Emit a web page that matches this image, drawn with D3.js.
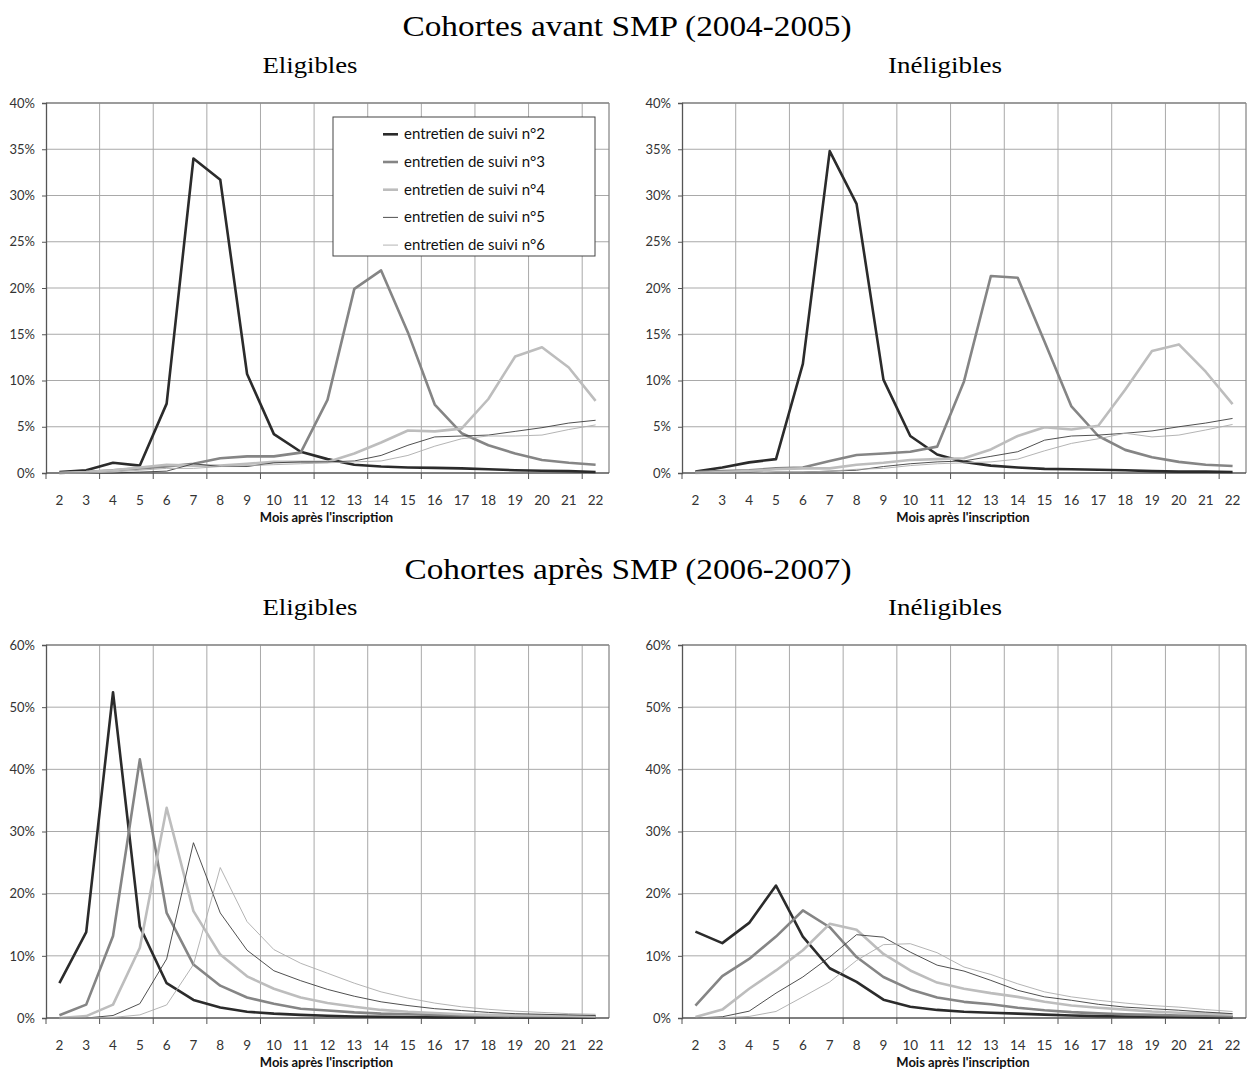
<!DOCTYPE html>
<html><head><meta charset="utf-8">
<script src="https://cdn.jsdelivr.net/npm/d3@7"></script>
<style>
body{margin:0;background:#fff;}
svg{display:block;}
.tick text{font-family:Lato,"Open Sans",sans-serif;}
</style>
</head><body>
<svg id="chart" width="1249" height="1072"></svg>
<script>
const months = ["2","3","4","5","6","7","8","9","10","11","12","13","14","15","16","17","18","19","20","21","22"];
const seriesNames = ["entretien de suivi n°2","entretien de suivi n°3","entretien de suivi n°4","entretien de suivi n°5","entretien de suivi n°6"];
const yTicksTop = [0,5,10,15,20,25,30,35,40];
const yTicksBottom = [0,10,20,30,40,50,60];

// Cohortes avant SMP - Eligibles
const avantElig2 = [0.1,0.3,1.1,0.8,7.5,34.0,31.7,10.7,4.2,2.3,1.5,0.9,0.7,0.6,0.55,0.5,0.4,0.3,0.25,0.2,0.1];
const avantElig3 = [0.0,0.1,0.3,0.5,0.7,1.0,1.6,1.8,1.8,2.2,7.9,19.9,21.9,15.2,7.4,4.3,3.0,2.1,1.4,1.1,0.9];
const avantElig4 = [0.0,0.1,0.3,0.6,0.9,0.8,0.8,1.0,1.2,1.2,1.2,2.1,3.3,4.6,4.5,4.8,8.0,12.6,13.6,11.4,7.8];
const avantElig5 = [0.0,0.0,0.0,0.1,0.2,1.0,0.7,0.7,1.1,1.2,1.2,1.3,1.9,3.0,3.9,4.0,4.1,4.5,4.9,5.4,5.7];
const avantElig6 = [0.0,0.0,0.1,0.3,0.5,0.5,0.7,0.8,0.9,1.0,1.1,1.2,1.3,1.9,2.9,3.7,4.0,4.0,4.1,4.7,5.2];
// Cohortes avant SMP - Inéligibles
const avantInel2 = [0.15,0.6,1.15,1.5,11.8,34.8,29.1,10.1,4.0,2.0,1.2,0.8,0.6,0.45,0.4,0.35,0.3,0.2,0.15,0.15,0.1];
const avantInel3 = [0.1,0.2,0.3,0.5,0.6,1.3,1.95,2.1,2.3,2.85,9.9,21.3,21.1,14.2,7.2,4.0,2.5,1.7,1.2,0.9,0.75];
const avantInel4 = [0.0,0.1,0.2,0.4,0.5,0.5,0.9,1.1,1.4,1.5,1.6,2.55,4.0,4.95,4.7,5.1,9.0,13.2,13.9,10.95,7.45];
const avantInel5 = [0.0,0.0,0.05,0.1,0.1,0.2,0.3,0.7,1.0,1.2,1.3,1.8,2.3,3.55,4.0,4.1,4.3,4.55,5.0,5.4,5.9];
const avantInel6 = [0.0,0.0,0.0,0.1,0.1,0.2,0.4,0.5,0.8,1.0,1.1,1.2,1.5,2.4,3.2,3.7,4.3,3.9,4.1,4.65,5.25];
// Cohortes après SMP - Eligibles
const apresElig2 = [5.6,13.8,52.4,14.7,5.6,2.9,1.7,1.0,0.7,0.5,0.35,0.25,0.2,0.15,0.1,0.1,0.1,0.1,0.1,0.1,0.1];
const apresElig3 = [0.45,2.15,13.2,41.6,16.9,8.6,5.2,3.3,2.3,1.5,1.2,0.9,0.7,0.6,0.5,0.4,0.35,0.3,0.3,0.25,0.25];
const apresElig4 = [0.0,0.3,2.15,11.3,33.8,17.2,10.2,6.7,4.7,3.3,2.4,1.8,1.3,1.0,0.8,0.6,0.5,0.45,0.4,0.35,0.3];
const apresElig5 = [0.0,0.0,0.4,2.3,9.5,28.2,16.9,10.9,7.6,6.0,4.6,3.5,2.6,2.0,1.5,1.2,0.9,0.7,0.6,0.5,0.4];
const apresElig6 = [0.0,0.0,0.1,0.5,2.1,8.6,24.2,15.5,11.0,8.8,7.2,5.6,4.2,3.2,2.4,1.8,1.4,1.1,0.9,0.7,0.6];
// Cohortes après SMP - Inéligibles
const apresInel2 = [13.9,12.05,15.3,21.3,13.1,8.0,5.8,2.95,1.8,1.3,1.0,0.85,0.7,0.55,0.4,0.3,0.25,0.2,0.15,0.1,0.1];
const apresInel3 = [2.0,6.75,9.5,13.1,17.3,14.6,9.8,6.6,4.6,3.3,2.6,2.2,1.65,1.25,0.95,0.75,0.6,0.5,0.4,0.35,0.3];
const apresInel4 = [0.15,1.35,4.7,7.65,10.9,15.15,14.2,10.3,7.65,5.7,4.7,4.0,3.4,2.6,2.0,1.65,1.35,1.05,0.85,0.7,0.55];
const apresInel5 = [0.0,0.2,1.1,4.0,6.6,9.8,13.4,13.0,10.6,8.5,7.55,6.05,4.45,3.4,2.85,2.2,1.75,1.5,1.25,0.95,0.7];
const apresInel6 = [0.0,0.05,0.25,1.05,3.4,5.8,9.25,11.8,11.95,10.5,8.2,7.0,5.5,4.2,3.4,2.85,2.4,2.0,1.75,1.35,1.05];

const styles = [
  {color:"#2b2b2b", width:2.6},
  {color:"#858585", width:2.6},
  {color:"#bdbdbd", width:2.6},
  {color:"#3c3c3c", width:0.9},
  {color:"#ababab", width:0.9}
];

const svg = d3.select("#chart");
const serif = "'Liberation Serif','DejaVu Serif',serif";
const sans = "Lato,'Open Sans',sans-serif";

// Titles
function title(txt, x, y, size, len){
  svg.append("text").attr("x",x).attr("y",y).attr("text-anchor","middle")
    .attr("font-family",serif).attr("font-size",size).attr("fill","#000")
    .attr("textLength",len).attr("lengthAdjust","spacingAndGlyphs").text(txt);
}
title("Cohortes avant SMP (2004-2005)", 627, 36, 29, 449);
title("Eligibles", 310, 73, 24, 95);
title("Inéligibles", 945, 73, 24, 114);
title("Cohortes après SMP (2006-2007)", 628, 579, 29, 447);
title("Eligibles", 310, 615, 24, 95);
title("Inéligibles", 945, 615, 24, 114);

const panels = [
  {x0:46, x1:609, y0:103, y1:473, ymax:40, ticks:yTicksTop, data:[avantElig2,avantElig3,avantElig4,avantElig5,avantElig6], legend:true},
  {x0:682, x1:1246, y0:103, y1:473, ymax:40, ticks:yTicksTop, data:[avantInel2,avantInel3,avantInel4,avantInel5,avantInel6]},
  {x0:46, x1:609, y0:645, y1:1018, ymax:60, ticks:yTicksBottom, data:[apresElig2,apresElig3,apresElig4,apresElig5,apresElig6]},
  {x0:682, x1:1246, y0:645, y1:1018, ymax:60, ticks:yTicksBottom, data:[apresInel2,apresInel3,apresInel4,apresInel5,apresInel6]}
];

panels.forEach(p => {
  const g = svg.append("g");
  const x = d3.scaleBand().domain(months).range([p.x0, p.x1]).padding(0);
  const y = d3.scaleLinear().domain([0, p.ymax]).range([p.y1, p.y0]);
  const bw = x.bandwidth();

  // horizontal grid
  g.selectAll(".hg").data(p.ticks.filter(t=>t>0)).enter().append("line")
    .attr("x1",p.x0).attr("x2",p.x1).attr("y1",d=>y(d)).attr("y2",d=>y(d))
    .attr("stroke","#a9a9a9").attr("stroke-width",1);
  // vertical grid at every 2nd category boundary
  const vIdx = d3.range(2, months.length, 2);
  g.selectAll(".vg").data(vIdx).enter().append("line")
    .attr("x1",i=>x(months[i])).attr("x2",i=>x(months[i]))
    .attr("y1",p.y0).attr("y2",p.y1)
    .attr("stroke","#a9a9a9").attr("stroke-width",1);
  // border top/right
  g.append("line").attr("x1",p.x0).attr("x2",p.x1).attr("y1",p.y0).attr("y2",p.y0).attr("stroke","#8a8a8a").attr("stroke-width",1.3);
  g.append("line").attr("x1",p.x1).attr("x2",p.x1).attr("y1",p.y0).attr("y2",p.y1).attr("stroke","#8a8a8a").attr("stroke-width",1.3);

  // y axis
  const ya = d3.axisLeft(y).tickValues(p.ticks).tickFormat(d=>d+"%").tickSize(4).tickPadding(7);
  const yg = g.append("g").attr("transform",`translate(${p.x0},0)`).call(ya);
  yg.select(".domain").attr("stroke","#555").attr("stroke-width",1.3);
  yg.selectAll(".tick line").attr("stroke","#555");
  yg.selectAll(".tick text").attr("font-size",13).attr("fill","#333").attr("font-family",sans);

  // x axis baseline
  g.append("line").attr("x1",p.x0).attr("x2",p.x1).attr("y1",p.y1).attr("y2",p.y1).attr("stroke","#555").attr("stroke-width",1.3);
  // tick marks below
  g.selectAll(".xt").data(d3.range(0, months.length, 2)).enter().append("line")
    .attr("x1",i=>x(months[i])).attr("x2",i=>x(months[i]))
    .attr("y1",p.y1).attr("y2",p.y1+6).attr("stroke","#555").attr("stroke-width",1);
  // x labels
  const xa = d3.axisBottom(x).tickSize(0).tickPadding(22);
  const xg = g.append("g").attr("transform",`translate(0,${p.y1})`).call(xa);
  xg.select(".domain").remove();
  xg.selectAll(".tick text").attr("font-size",13.5).attr("fill","#333").attr("font-family",sans);
  g.append("text").attr("x",(p.x0+p.x1)/2 - 1).attr("y",p.y1+49).attr("text-anchor","middle")
    .attr("font-family",sans).attr("font-weight","bold").attr("font-size",13).attr("fill","#111")
    .text("Mois après l'inscription");

  // lines
  const line = d3.line().x((d,i)=>x(months[i])+bw/2).y(d=>y(d));
  p.data.forEach((arr, k) => {
    g.append("path").datum(arr).attr("d",line).attr("fill","none")
      .attr("stroke",styles[k].color).attr("stroke-width",styles[k].width)
      .attr("stroke-linejoin","round");
  });

  if (p.legend) {
    const lg = g.append("g");
    lg.append("rect").attr("x",333).attr("y",117).attr("width",262).attr("height",139)
      .attr("fill","#fff").attr("stroke","#444").attr("stroke-width",1);
    seriesNames.forEach((n,k) => {
      const cy = 134.3 + k*27.7;
      lg.append("line").attr("x1",383).attr("x2",398).attr("y1",cy).attr("y2",cy)
        .attr("stroke",styles[k].color).attr("stroke-width",styles[k].width);
      lg.append("text").attr("x",404).attr("y",cy+5).attr("font-family",sans).attr("font-size",15)
        .attr("fill","#111").text(n);
    });
  }
});
</script>
</body></html>
